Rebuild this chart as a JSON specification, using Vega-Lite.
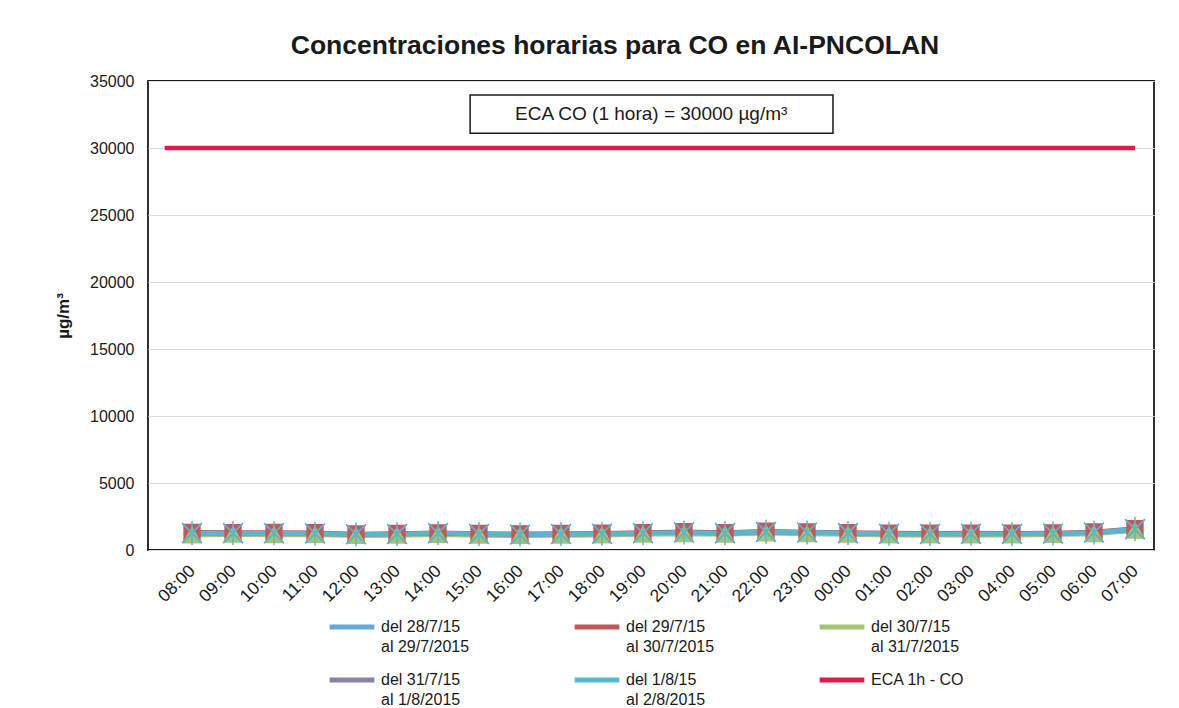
{
  "$schema": "https://vega.github.io/schema/vega-lite/v6.json",
  "autosize": {"type": "none"},
  "width": 1006,
  "height": 469,
  "padding": {"left": 148, "top": 81, "right": 25, "bottom": 158},
  "background": "white",
  "title": {"text": "Concentraciones horarias para CO en AI-PNCOLAN", "font": "Liberation Sans", "fontSize": 26.5, "fontWeight": "bold", "color": "#1a1a1a", "anchor": "middle", "frame": "group", "dx": -36, "offset": -7, "baseline": "alphabetic"},
  "datasets": {
    "co": [
      {"t": "2015-07-28T07:20", "ECA 1h - CO": 30000},
      {"t": "2015-07-28T08:00", "del 28/7/15 al 29/7/2015": 1200, "del 29/7/15 al 30/7/2015": 1320, "del 30/7/15 al 31/7/2015": 1100, "del 31/7/15 al 1/8/2015": 1250, "del 1/8/15 al 2/8/2015": 1270, "ECA 1h - CO": 30000},
      {"t": "2015-07-28T09:00", "del 28/7/15 al 29/7/2015": 1210, "del 29/7/15 al 30/7/2015": 1300, "del 30/7/15 al 31/7/2015": 1150, "del 31/7/15 al 1/8/2015": 1240, "del 1/8/15 al 2/8/2015": 1260, "ECA 1h - CO": 30000},
      {"t": "2015-07-28T10:00", "del 28/7/15 al 29/7/2015": 1190, "del 29/7/15 al 30/7/2015": 1310, "del 30/7/15 al 31/7/2015": 1120, "del 31/7/15 al 1/8/2015": 1260, "del 1/8/15 al 2/8/2015": 1250, "ECA 1h - CO": 30000},
      {"t": "2015-07-28T11:00", "del 28/7/15 al 29/7/2015": 1180, "del 29/7/15 al 30/7/2015": 1290, "del 30/7/15 al 31/7/2015": 1130, "del 31/7/15 al 1/8/2015": 1220, "del 1/8/15 al 2/8/2015": 1240, "ECA 1h - CO": 30000},
      {"t": "2015-07-28T12:00", "del 28/7/15 al 29/7/2015": 1120, "del 29/7/15 al 30/7/2015": 1200, "del 30/7/15 al 31/7/2015": 1060, "del 31/7/15 al 1/8/2015": 1160, "del 1/8/15 al 2/8/2015": 1170, "ECA 1h - CO": 30000},
      {"t": "2015-07-28T13:00", "del 28/7/15 al 29/7/2015": 1150, "del 29/7/15 al 30/7/2015": 1240, "del 30/7/15 al 31/7/2015": 1090, "del 31/7/15 al 1/8/2015": 1190, "del 1/8/15 al 2/8/2015": 1200, "ECA 1h - CO": 30000},
      {"t": "2015-07-28T14:00", "del 28/7/15 al 29/7/2015": 1200, "del 29/7/15 al 30/7/2015": 1280, "del 30/7/15 al 31/7/2015": 1130, "del 31/7/15 al 1/8/2015": 1240, "del 1/8/15 al 2/8/2015": 1260, "ECA 1h - CO": 30000},
      {"t": "2015-07-28T15:00", "del 28/7/15 al 29/7/2015": 1140, "del 29/7/15 al 30/7/2015": 1240, "del 30/7/15 al 31/7/2015": 1080, "del 31/7/15 al 1/8/2015": 1190, "del 1/8/15 al 2/8/2015": 1200, "ECA 1h - CO": 30000},
      {"t": "2015-07-28T16:00", "del 28/7/15 al 29/7/2015": 1110, "del 29/7/15 al 30/7/2015": 1210, "del 30/7/15 al 31/7/2015": 1060, "del 31/7/15 al 1/8/2015": 1150, "del 1/8/15 al 2/8/2015": 1160, "ECA 1h - CO": 30000},
      {"t": "2015-07-28T17:00", "del 28/7/15 al 29/7/2015": 1150, "del 29/7/15 al 30/7/2015": 1230, "del 30/7/15 al 31/7/2015": 1090, "del 31/7/15 al 1/8/2015": 1180, "del 1/8/15 al 2/8/2015": 1190, "ECA 1h - CO": 30000},
      {"t": "2015-07-28T18:00", "del 28/7/15 al 29/7/2015": 1170, "del 29/7/15 al 30/7/2015": 1250, "del 30/7/15 al 31/7/2015": 1110, "del 31/7/15 al 1/8/2015": 1200, "del 1/8/15 al 2/8/2015": 1210, "ECA 1h - CO": 30000},
      {"t": "2015-07-28T19:00", "del 28/7/15 al 29/7/2015": 1210, "del 29/7/15 al 30/7/2015": 1300, "del 30/7/15 al 31/7/2015": 1150, "del 31/7/15 al 1/8/2015": 1260, "del 1/8/15 al 2/8/2015": 1250, "ECA 1h - CO": 30000},
      {"t": "2015-07-28T20:00", "del 28/7/15 al 29/7/2015": 1260, "del 29/7/15 al 30/7/2015": 1360, "del 30/7/15 al 31/7/2015": 1200, "del 31/7/15 al 1/8/2015": 1300, "del 1/8/15 al 2/8/2015": 1310, "ECA 1h - CO": 30000},
      {"t": "2015-07-28T21:00", "del 28/7/15 al 29/7/2015": 1220, "del 29/7/15 al 30/7/2015": 1300, "del 30/7/15 al 31/7/2015": 1160, "del 31/7/15 al 1/8/2015": 1240, "del 1/8/15 al 2/8/2015": 1260, "ECA 1h - CO": 30000},
      {"t": "2015-07-28T22:00", "del 28/7/15 al 29/7/2015": 1310, "del 29/7/15 al 30/7/2015": 1400, "del 30/7/15 al 31/7/2015": 1250, "del 31/7/15 al 1/8/2015": 1340, "del 1/8/15 al 2/8/2015": 1360, "ECA 1h - CO": 30000},
      {"t": "2015-07-28T23:00", "del 28/7/15 al 29/7/2015": 1260, "del 29/7/15 al 30/7/2015": 1350, "del 30/7/15 al 31/7/2015": 1200, "del 31/7/15 al 1/8/2015": 1300, "del 1/8/15 al 2/8/2015": 1310, "ECA 1h - CO": 30000},
      {"t": "2015-07-29T00:00", "del 28/7/15 al 29/7/2015": 1220, "del 29/7/15 al 30/7/2015": 1300, "del 30/7/15 al 31/7/2015": 1160, "del 31/7/15 al 1/8/2015": 1250, "del 1/8/15 al 2/8/2015": 1260, "ECA 1h - CO": 30000},
      {"t": "2015-07-29T01:00", "del 28/7/15 al 29/7/2015": 1170, "del 29/7/15 al 30/7/2015": 1260, "del 30/7/15 al 31/7/2015": 1110, "del 31/7/15 al 1/8/2015": 1200, "del 1/8/15 al 2/8/2015": 1210, "ECA 1h - CO": 30000},
      {"t": "2015-07-29T02:00", "del 28/7/15 al 29/7/2015": 1160, "del 29/7/15 al 30/7/2015": 1250, "del 30/7/15 al 31/7/2015": 1100, "del 31/7/15 al 1/8/2015": 1200, "del 1/8/15 al 2/8/2015": 1200, "ECA 1h - CO": 30000},
      {"t": "2015-07-29T03:00", "del 28/7/15 al 29/7/2015": 1170, "del 29/7/15 al 30/7/2015": 1260, "del 30/7/15 al 31/7/2015": 1110, "del 31/7/15 al 1/8/2015": 1200, "del 1/8/15 al 2/8/2015": 1210, "ECA 1h - CO": 30000},
      {"t": "2015-07-29T04:00", "del 28/7/15 al 29/7/2015": 1160, "del 29/7/15 al 30/7/2015": 1250, "del 30/7/15 al 31/7/2015": 1100, "del 31/7/15 al 1/8/2015": 1210, "del 1/8/15 al 2/8/2015": 1200, "ECA 1h - CO": 30000},
      {"t": "2015-07-29T05:00", "del 28/7/15 al 29/7/2015": 1190, "del 29/7/15 al 30/7/2015": 1270, "del 30/7/15 al 31/7/2015": 1130, "del 31/7/15 al 1/8/2015": 1220, "del 1/8/15 al 2/8/2015": 1230, "ECA 1h - CO": 30000},
      {"t": "2015-07-29T06:00", "del 28/7/15 al 29/7/2015": 1260, "del 29/7/15 al 30/7/2015": 1350, "del 30/7/15 al 31/7/2015": 1200, "del 31/7/15 al 1/8/2015": 1300, "del 1/8/15 al 2/8/2015": 1300, "ECA 1h - CO": 30000},
      {"t": "2015-07-29T07:00", "del 28/7/15 al 29/7/2015": 1480, "del 29/7/15 al 30/7/2015": 1600, "del 30/7/15 al 31/7/2015": 1450, "del 31/7/15 al 1/8/2015": 1530, "del 1/8/15 al 2/8/2015": 1560, "ECA 1h - CO": 30000}
    ],
    "nota": [
      {"x1": "2015-07-28T14:47", "x2": "2015-07-28T23:38", "y1": 31100, "y2": 33950, "xm": "2015-07-28T19:12", "ym": 32520, "texto": "ECA CO (1 hora) = 30000 µg/m³"}
    ]
  },
  "config": {
    "font": "Liberation Sans",
    "view": {"stroke": "#1a1a1a", "strokeWidth": 1.8},
    "axis": {"labelFont": "Liberation Sans", "labelFontSize": 16, "labelColor": "#1a1a1a", "ticks": false, "domain": false, "titleFont": "Liberation Sans", "titleColor": "#1a1a1a"},
    "style": {"guide-label": {"lineHeight": 20}}
  },
  "layer": [
    {
      "data": {"name": "co"},
      "transform": [
        {"fold": ["del 28/7/15 al 29/7/2015", "del 29/7/15 al 30/7/2015", "del 30/7/15 al 31/7/2015", "del 31/7/15 al 1/8/2015", "del 1/8/15 al 2/8/2015", "ECA 1h - CO"], "as": ["serie", "v"]},
        {"filter": "isValid(datum.v)"}
      ],
      "mark": {"type": "line", "strokeWidth": 4.5},
      "encoding": {
        "x": {
          "field": "t", "type": "temporal",
          "scale": {"domain": [{"year": 2015, "month": 7, "date": 28, "hours": 6, "minutes": 55, "seconds": 36}, {"year": 2015, "month": 7, "date": 29, "hours": 7, "minutes": 27, "seconds": 48}]},
          "axis": {
            "title": null, "grid": false, "format": "%H:%M", "labelAngle": -45, "labelAlign": "right", "labelBaseline": "middle", "labelPadding": 18, "labelFontSize": 17.5, "labelOverlap": false, "labelFlush": false,
            "values": [
              {"year": 2015, "month": 7, "date": 28, "hours": 8}, {"year": 2015, "month": 7, "date": 28, "hours": 9}, {"year": 2015, "month": 7, "date": 28, "hours": 10}, {"year": 2015, "month": 7, "date": 28, "hours": 11},
              {"year": 2015, "month": 7, "date": 28, "hours": 12}, {"year": 2015, "month": 7, "date": 28, "hours": 13}, {"year": 2015, "month": 7, "date": 28, "hours": 14}, {"year": 2015, "month": 7, "date": 28, "hours": 15},
              {"year": 2015, "month": 7, "date": 28, "hours": 16}, {"year": 2015, "month": 7, "date": 28, "hours": 17}, {"year": 2015, "month": 7, "date": 28, "hours": 18}, {"year": 2015, "month": 7, "date": 28, "hours": 19},
              {"year": 2015, "month": 7, "date": 28, "hours": 20}, {"year": 2015, "month": 7, "date": 28, "hours": 21}, {"year": 2015, "month": 7, "date": 28, "hours": 22}, {"year": 2015, "month": 7, "date": 28, "hours": 23},
              {"year": 2015, "month": 7, "date": 29, "hours": 0}, {"year": 2015, "month": 7, "date": 29, "hours": 1}, {"year": 2015, "month": 7, "date": 29, "hours": 2}, {"year": 2015, "month": 7, "date": 29, "hours": 3},
              {"year": 2015, "month": 7, "date": 29, "hours": 4}, {"year": 2015, "month": 7, "date": 29, "hours": 5}, {"year": 2015, "month": 7, "date": 29, "hours": 6}, {"year": 2015, "month": 7, "date": 29, "hours": 7}
            ]
          }
        },
        "y": {
          "field": "v", "type": "quantitative",
          "scale": {"domain": [0, 35000]},
          "axis": {"values": [0, 5000, 10000, 15000, 20000, 25000, 30000, 35000], "format": "d", "grid": true, "gridColor": "#dcdcdc", "gridWidth": 1, "labelPadding": 14, "title": "µg/m³", "titleFontSize": 17, "titleFontWeight": "bold", "titlePadding": 17}
        },
        "color": {
          "field": "serie", "type": "nominal",
          "scale": {"domain": ["del 28/7/15 al 29/7/2015", "del 29/7/15 al 30/7/2015", "del 30/7/15 al 31/7/2015", "del 31/7/15 al 1/8/2015", "del 1/8/15 al 2/8/2015", "ECA 1h - CO"], "range": ["#6aa6d8", "#c0585c", "#a3c474", "#8a83a8", "#58b7d0", "#e5194b"]},
          "legend": {
            "title": null, "orient": "none", "legendX": 179, "legendY": 521, "columns": 3, "direction": "horizontal", "gridAlign": "all",
            "symbolType": "stroke", "symbolSize": 2000, "symbolStrokeWidth": 5,
            "labelFont": "Liberation Sans", "labelFontSize": 16, "labelColor": "#1a1a1a", "labelOffset": 4, "labelLimit": 300, "labelBaseline": "middle",
            "columnPadding": 89, "rowPadding": -17,
            "labelExpr": "indexof(datum.label, ' al ') > 0 ? [substring(datum.label, 0, indexof(datum.label, ' al ')), substring(datum.label, indexof(datum.label, ' al ') + 1)] : datum.label"
          }
        }
      }
    },
    {
      "data": {"name": "co"},
      "transform": [
        {"fold": ["del 28/7/15 al 29/7/2015", "del 29/7/15 al 30/7/2015", "del 30/7/15 al 31/7/2015", "del 31/7/15 al 1/8/2015", "del 1/8/15 al 2/8/2015"], "as": ["serie", "v"]},
        {"filter": "isValid(datum.v)"}
      ],
      "mark": {"type": "point", "filled": true, "strokeWidth": 1.5, "opacity": 1},
      "encoding": {
        "x": {"field": "t", "type": "temporal"},
        "y": {"field": "v", "type": "quantitative"},
        "fill": {"field": "serie", "type": "nominal", "legend": null, "scale": {"domain": ["del 28/7/15 al 29/7/2015", "del 29/7/15 al 30/7/2015", "del 30/7/15 al 31/7/2015", "del 31/7/15 al 1/8/2015", "del 1/8/15 al 2/8/2015"], "range": ["#6aa6d8", "#c0585c", "#a3c474", "#8a83a8", "#58b7d0"]}},
        "stroke": {"field": "serie", "type": "nominal", "legend": null, "scale": {"domain": ["del 28/7/15 al 29/7/2015", "del 29/7/15 al 30/7/2015", "del 30/7/15 al 31/7/2015", "del 31/7/15 al 1/8/2015", "del 1/8/15 al 2/8/2015"], "range": ["#6aa6d8", "#c0585c", "#a3c474", "#8a83a8", "#58b7d0"]}},
        "shape": {"field": "serie", "type": "nominal", "legend": null, "scale": {"domain": ["del 28/7/15 al 29/7/2015", "del 29/7/15 al 30/7/2015", "del 30/7/15 al 31/7/2015", "del 31/7/15 al 1/8/2015", "del 1/8/15 al 2/8/2015"], "range": ["diamond", "square", "triangle-up", "M-1,-1L1,1M-1,1L1,-1", "M-1,-1L1,1M-1,1L1,-1M0,-1.2L0,1.2"]}},
        "size": {"field": "serie", "type": "ordinal", "legend": null, "scale": {"domain": ["del 28/7/15 al 29/7/2015", "del 29/7/15 al 30/7/2015", "del 30/7/15 al 31/7/2015", "del 31/7/15 al 1/8/2015", "del 1/8/15 al 2/8/2015"], "range": [200, 400, 200, 150, 150]}}
      }
    },
    {
      "data": {"name": "nota"},
      "mark": {"type": "rect", "fill": "white", "stroke": "#1a1a1a", "strokeWidth": 1.5},
      "encoding": {
        "x": {"field": "x1", "type": "temporal"},
        "x2": {"field": "x2"},
        "y": {"field": "y1", "type": "quantitative"},
        "y2": {"field": "y2"}
      }
    },
    {
      "data": {"name": "nota"},
      "mark": {"type": "text", "font": "Liberation Sans", "fontSize": 19, "color": "#1a1a1a", "align": "center", "baseline": "middle"},
      "encoding": {
        "x": {"field": "xm", "type": "temporal"},
        "y": {"field": "ym", "type": "quantitative"},
        "text": {"field": "texto"}
      }
    }
  ]
}
